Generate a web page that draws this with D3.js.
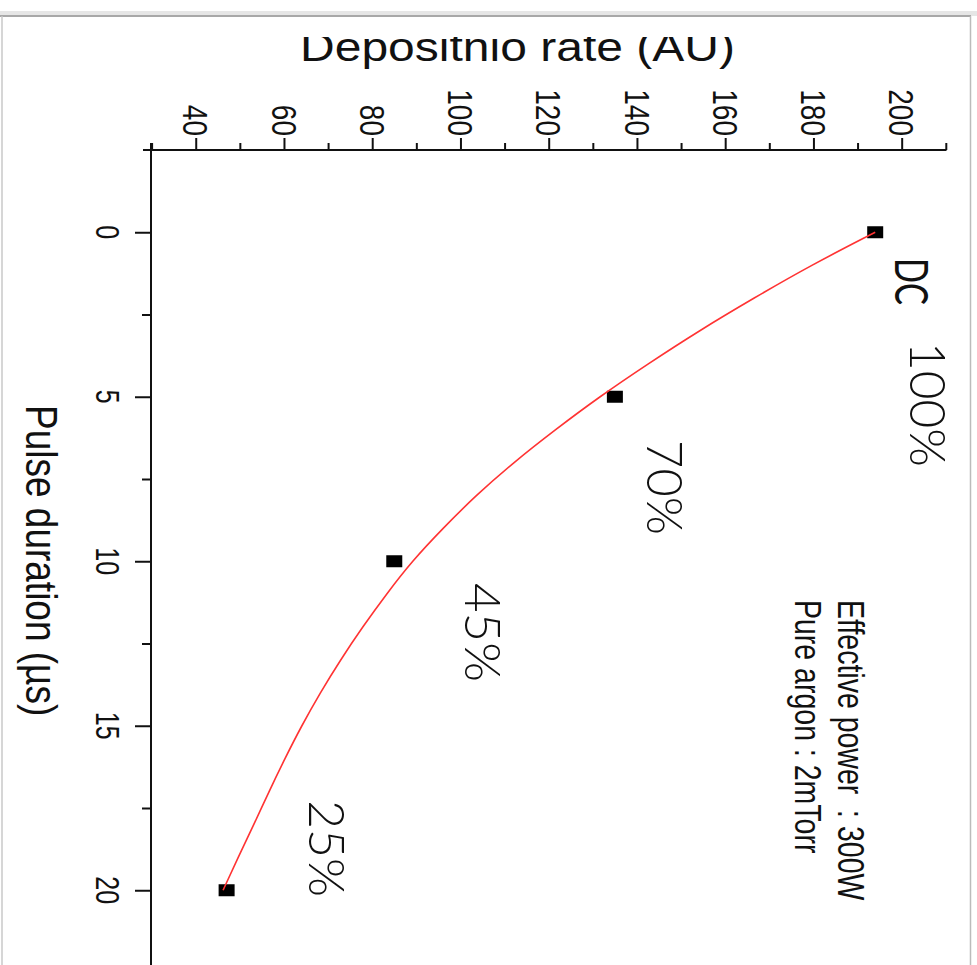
<!DOCTYPE html>
<html><head><meta charset="utf-8">
<script src="https://cdn.jsdelivr.net/npm/d3@7/dist/d3.min.js"></script>
<style>
html,body{margin:0;padding:0;background:#fff;}
svg{display:block;}
text{font-family:"Liberation Sans",Arial,sans-serif;fill:#111;}
</style></head>
<body>
<svg id="c" width="977" height="965"></svg>
<script>
// ---- data ----
const pulseDuration = [0, 5, 10, 20];            // µs
const depositionRate = [194, 135, 85, 47];        // AU
const fitDuration = [0,1,2,3,4,5,6,7,8,9,10,11,12,13,14,15,16,17,18,19,20];
const fitRate = [194,179.5,166.5,154,142.5,131.5,121.5,112,103.5,96,89,83.2,77.8,72.8,68.2,64,60.2,56.6,53.2,49.6,46.2];
const rateTicks = [40,60,80,100,120,140,160,180,200];
const rateMinorTicks = [30,50,70,90,110,130,150,170,190,210];
const durationTicks = [0,5,10,15,20];
const durationMinorTicks = [2.5,7.5,12.5,17.5,22.5];
const rateTitle = "Depositnio rate (AU)";
const durationTitle = "Pulse duration (\u00b5s)";
const dutyLabels = ["DC", "100%", "70%", "45%", "25%"];
const noteLines = ["Effective power  : 300W", "Pure argon : 2mTorr"];

const svg = d3.select("#c");

// frame
svg.append("rect").attr("x",0).attr("y",11).attr("width",977).attr("height",5).attr("fill","#e6e6e6");
svg.append("line").attr("x1",0).attr("x2",971).attr("y1",16).attr("y2",16).attr("stroke","#a8a8a8").attr("stroke-width",2);
svg.append("line").attr("x1",970.5).attr("x2",970.5).attr("y1",16).attr("y2",965).attr("stroke","#bbb").attr("stroke-width",1.5);
svg.append("line").attr("x1",2).attr("x2",2).attr("y1",16).attr("y2",965).attr("stroke","#c8c8c8").attr("stroke-width",1.5);

// scales (chart rotated 90° clockwise: rate runs left→right, duration top→bottom)
const x = d3.scaleLinear().domain([30,210]).range([151.6,945.8]);
const y = d3.scaleLinear().domain([-2.5,22.5]).range([150,972.5]);

// top axis (rate)
const gx = svg.append("g").attr("transform","translate(0,150)")
  .call(d3.axisTop(x).tickValues(rateTicks.concat(rateMinorTicks)).tickSize(12).tickSizeOuter(0).tickFormat(""));
gx.selectAll(".tick line").attr("y2", d => rateMinorTicks.includes(d) ? -7 : -12);
gx.select(".domain").attr("d", `M143,0H946.5`);
gx.selectAll("line, path").attr("stroke","#111").attr("stroke-width",2);
svg.append("g").selectAll("text").data(rateTicks).join("text")
  .attr("transform", d => `translate(${x(d)},136) rotate(90) scale(1,1.22)`)
  .attr("text-anchor","end").attr("dy","0.36em")
  .style("font-size","28px").text(d => d);

// left axis (duration)
const gy = svg.append("g").attr("transform","translate(151,0)")
  .call(d3.axisLeft(y).tickValues(durationTicks.concat(durationMinorTicks)).tickSize(16).tickSizeOuter(0).tickFormat(""));
gy.selectAll(".tick line").attr("x2", d => durationMinorTicks.includes(d) ? -9 : -16);
gy.select(".domain").attr("d", `M0,143V965`);
gy.selectAll("line, path").attr("stroke","#111").attr("stroke-width",2);
svg.append("g").selectAll("text").data(durationTicks).join("text")
  .attr("transform", d => `translate(96,${y(d)}) rotate(90) scale(1,1.3)`)
  .attr("text-anchor","middle")
  .style("font-size","25px").text(d => d);

// axis titles
svg.append("defs").append("clipPath").attr("id","tclip")
  .append("rect").attr("x",0).attr("y",37).attr("width",977).attr("height",60);
svg.append("text").attr("clip-path","url(#tclip)")
  .attr("x",300).attr("y",61).attr("textLength",435).attr("lengthAdjust","spacingAndGlyphs")
  .style("font-size","40px").text(rateTitle);
svg.append("text")
  .attr("transform","translate(26,405) rotate(90) scale(1,1.2)")
  .style("font-size","37px").text(durationTitle);

// markers
svg.append("g").selectAll("rect").data(pulseDuration).join("rect")
  .attr("x",(d,i) => x(depositionRate[i]) - 8).attr("y",d => y(d) - 6)
  .attr("width",16).attr("height",12).attr("fill","#000");

// fit curve
const line = d3.line().x((d,i) => x(fitRate[i])).y(d => y(d)).curve(d3.curveBasis);
svg.append("path").datum(fitDuration).attr("d",line)
  .attr("fill","none").attr("stroke","#f33").attr("stroke-width",1.6);

// duty labels
const labelPos = [
  {bx:895, sy:258, len:47,  fs:46, w:400},
  {bx:910, sy:342, len:125, fs:50, w:300},
  {bx:647, sy:440, len:95,  fs:49, w:300},
  {bx:465, sy:583, len:99,  fs:50, w:300},
  {bx:309, sy:800, len:97,  fs:50, w:300}
];
svg.append("g").selectAll("text").data(dutyLabels).join("text")
  .attr("transform", (d,i) => `translate(${labelPos[i].bx},${labelPos[i].sy}) rotate(90)`)
  .attr("textLength", (d,i) => labelPos[i].len).attr("lengthAdjust","spacingAndGlyphs")
  .style("font-family","Lato, 'Open Sans', sans-serif").style("font-weight",(d,i) => labelPos[i].w)
  .style("font-size", (d,i) => labelPos[i].fs + "px").text(d => d);

// note
const noteBase = [838, 795];
svg.append("g").selectAll("text").data(noteLines).join("text")
  .attr("transform", (d,i) => `translate(${noteBase[i]},600) rotate(90) scale(1,1.3)`)
  .style("white-space","pre")
  .style("font-size","28.5px").text(d => d);
</script>
</body></html>
